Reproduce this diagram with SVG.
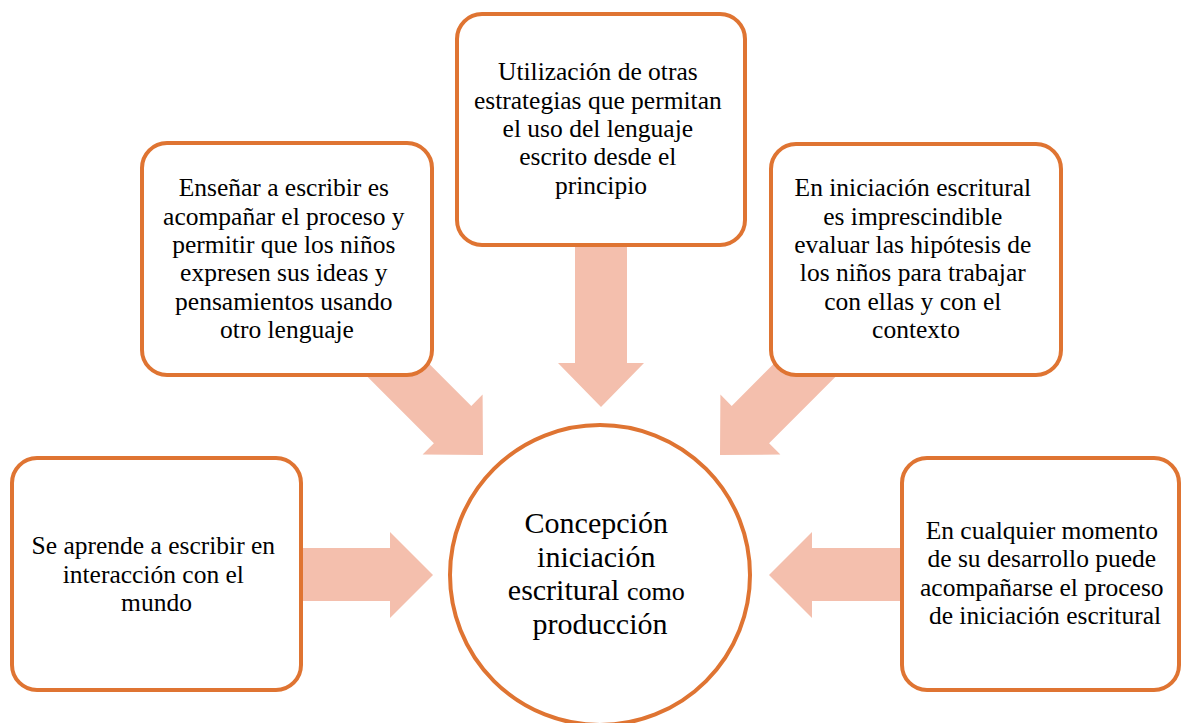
<svg xmlns="http://www.w3.org/2000/svg" width="1181" height="723" viewBox="0 0 1181 723">
  <style>
    .box { fill: #FFFFFF; stroke: #DF7432; stroke-width: 4; }
    .arrow { fill: #F4BFAD; stroke: none; }
    text { font-family: 'Liberation Serif', 'Times New Roman', serif; font-size: 25.5px; fill: #000000; text-anchor: middle; }
    .big { font-size: 30px; }
    .mid { font-size: 26px; }
  </style>
  <rect width="1181" height="723" fill="#FFFFFF"/>
  <g id="connectors">
    <polygon class="arrow" points="290,548 390,548 390,532 433,575 390,618 390,601 290,601"/>
    <polygon class="arrow" points="912,548 812,548 812,532 769,575 812,618 812,601 912,601"/>
    <polygon class="arrow" points="575,235 627,235 627,363 644,363 601,407 558,363 575,363"/>
    <polygon class="arrow" points="400.6,335.2 471.3,405.9 482.6,394.6 483,455 422.6,454.6 433.9,443.3 363.2,372.6"/>
    <polygon class="arrow" points="802.4,335.2 731.7,405.9 720.4,394.6 720,455 780.4,454.6 769.1,443.3 839.8,372.6"/>
  </g>
  <g id="node-top">
    <rect class="box" x="457" y="14" width="288" height="231" rx="25"/>
    <text>
      <tspan x="601" y="80.4">Utilización de otras</tspan>
      <tspan x="601" y="108.7">estrategias que permitan</tspan>
      <tspan x="601" y="137">el uso del lenguaje</tspan>
      <tspan x="601" y="165.3">escrito desde el</tspan>
      <tspan x="601" y="193.6">principio</tspan>
    </text>
  </g>
  <g id="node-top-left">
    <rect class="box" x="142" y="143" width="290" height="232" rx="25"/>
    <text>
      <tspan x="287" y="196.3">Enseñar a escribir es</tspan>
      <tspan x="287" y="224.6">acompañar el proceso y</tspan>
      <tspan x="287" y="252.9">permitir que los niños</tspan>
      <tspan x="287" y="281.2">expresen sus ideas y</tspan>
      <tspan x="287" y="309.5">pensamientos usando</tspan>
      <tspan x="287" y="337.8">otro lenguaje</tspan>
    </text>
  </g>
  <g id="node-top-right">
    <rect class="box" x="771" y="144" width="290" height="231" rx="25"/>
    <text>
      <tspan x="916" y="196.3">En iniciación escritural</tspan>
      <tspan x="916" y="224.6">es imprescindible</tspan>
      <tspan x="916" y="252.9">evaluar las hipótesis de</tspan>
      <tspan x="916" y="281.2">los niños para trabajar</tspan>
      <tspan x="916" y="309.5">con ellas y con el</tspan>
      <tspan x="916" y="337.8">contexto</tspan>
    </text>
  </g>
  <g id="node-left">
    <rect class="box" x="12" y="458" width="289" height="232" rx="25"/>
    <text>
      <tspan x="156.5" y="554.2">Se aprende a escribir en</tspan>
      <tspan x="156.5" y="582.5">interacción con el</tspan>
      <tspan x="156.5" y="610.8">mundo</tspan>
    </text>
  </g>
  <g id="node-right">
    <rect class="box" x="902" y="458" width="277" height="232" rx="25"/>
    <text>
      <tspan x="1045" y="539">En cualquier momento</tspan>
      <tspan x="1045" y="567.4">de su desarrollo puede</tspan>
      <tspan x="1045" y="595.7">acompañarse el proceso</tspan>
      <tspan x="1045" y="624">de iniciación escritural</tspan>
    </text>
  </g>
  <g id="node-center">
    <circle class="box" cx="600" cy="575" r="150"/>
    <text class="big">
      <tspan x="600" y="533">Concepción</tspan>
      <tspan x="600" y="566.5">iniciación</tspan>
      <tspan x="600" y="600">escritural <tspan class="mid">como</tspan></tspan>
      <tspan x="600" y="633.5">producción</tspan>
    </text>
  </g>
</svg>
